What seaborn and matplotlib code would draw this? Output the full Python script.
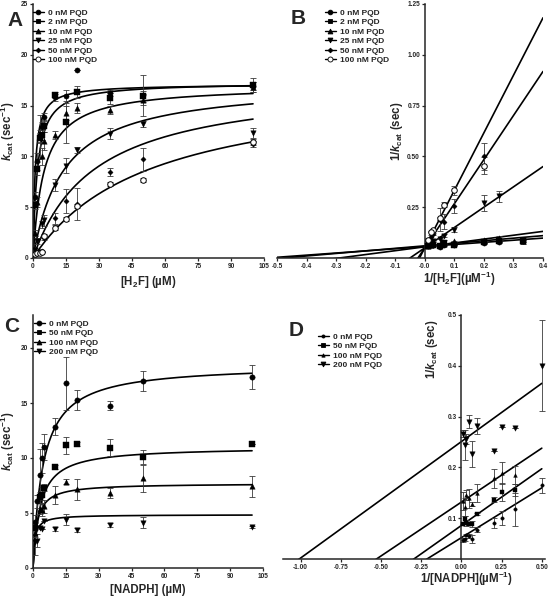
import numpy as np
import matplotlib
matplotlib.use('Agg')
import matplotlib.pyplot as plt
import seaborn as sns
from matplotlib.lines import Line2D
from matplotlib.ticker import FormatStrFormatter

# ---------------- data: panels A / B ([H2F] varied) ----------------
h2f_conc = [1, 2, 3, 4, 5, 10, 15, 20, 35, 50, 100]
h2f_labels = ['0 nM PQD', '2 nM PQD', '10 nM PQD', '25 nM PQD', '50 nM PQD', '100 nM PQD']

kcat_h2f_0 = [6.0, 9.5, 11.9, 12.9, 13.9, 15.8, 15.9, 18.5, 16.2, 16.0, 16.9]
kcat_h2f_2 = [5.2, 8.8, 11.8, 12.1, 13.0, 16.0, 13.4, 16.3, 15.7, 15.9, 17.0]
kcat_h2f_10 = [2.5, 5.5, 12.0, 10.0, 11.5, 12.1, 14.3, 14.8, 14.6, 15.6, 16.8]
kcat_h2f_25 = [0.8, 1.7, 0.6, 3.3, 3.7, 7.2, 9.1, 10.6, 12.25, 13.2, 12.3]
kcat_h2f_50 = [0.4, 0.6, 0.6, 0.65, 2.0, 3.9, 5.6, 5.3, 8.5, 9.7, 11.2]
kcat_h2f_100 = [0.4, 0.5, 0.5, 0.6, 2.2, 3.0, 3.8, 5.1, 7.3, 7.7, 11.4]

err_h2f_0 = [0.5, 0.8, 2.2, 0.5, 0.4, 0.3, 0.6, 0.0, 0.3, 2.0, 0.4]
err_h2f_2 = [0.4, 0.6, 0.5, 0.5, 0.6, 0.3, 2.1, 0.6, 0.5, 0.5, 0.7]
err_h2f_10 = [0.3, 0.5, 0.6, 0.8, 0.9, 0.4, 0.7, 0.5, 0.4, 0.5, 0.5]
err_h2f_25 = [0.2, 0.3, 0.02, 0.3, 0.55, 0.6, 0.7, 0.3, 0.5, 0.3, 0.5]
err_h2f_50 = [0.1, 0.1, 0.02, 0.02, 0.26, 0.55, 1.2, 1.6, 0.4, 1.1, 0.3]
err_h2f_100 = [0.1, 0.1, 0.02, 0.02, 0.2, 0.2, 0.2, 0.2, 0.2, 0.2, 0.3]

# Michaelis-Menten fit parameters (panel A curves)
vmax_h2f = [17.1, 17.3, 17.0, 17.3, 17.5, 17.5]
km_h2f = [1.0, 2.0, 5.0, 14.0, 28.0, 53.0]

# double reciprocal fit lines (panel B)
slope_h2f = [0.105, 0.125, 0.19, 1.0, 2.17, 2.83]
icpt_h2f = [0.056, 0.06, 0.055, 0.05, 0.05, 0.05]

# ---------------- data: panels C / D ([NADPH] varied) ----------------
nadph_conc = [1, 2, 3, 4, 5, 10, 15, 20, 35, 50, 100]
nadph_labels = ['0 nM PQD', '50 nM PQD', '100 nM PQD', '200 nM PQD']

kcat_nadph_0 = [4.2, 6.05, 8.5, 10.0, 11.0, 12.85, 16.8, 15.3, 14.75, 17.0, 17.4]
kcat_nadph_50 = [3.6, np.nan, 6.45, 6.6, 7.3, 9.2, 11.15, 11.25, 10.95, 10.1, 11.25]
kcat_nadph_100 = [3.2, np.nan, 5.4, 5.3, 5.6, 6.65, 7.85, 7.15, 6.85, 8.15, 7.45]
kcat_nadph_200 = [2.4, 2.5, 3.6, 3.57, 4.3, 3.55, 4.4, 3.45, 3.9, 4.1, 3.75]

err_nadph_0 = [0.6, 0.55, 2.3, 1.4, 1.2, 0.75, 2.4, 0.9, 0.4, 0.9, 1.1]
err_nadph_50 = [0.5, 0.0, 0.5, 0.8, 0.3, 0.2, 0.75, 0.2, 0.75, 0.6, 0.0]
err_nadph_100 = [0.4, 0.0, 0.5, 0.6, 0.6, 0.8, 0.25, 0.95, 0.45, 1.2, 0.95]
err_nadph_200 = [1.2, 0.56, 0.0, 0.0, 0.0, 0.2, 0.5, 0.15, 0.15, 0.5, 0.1]

vmax_nadph = [18.5, 11.0, 7.7, 4.85]
km_nadph = [4.5, 3.2, 1.7, 0.8]

slope_nadph = [0.196, 0.223, 0.212, 0.229]
icpt_nadph = [0.062, 0.086, 0.132, 0.251]

# ---------------- style ----------------
sns.set_style('ticks')
plt.rcParams['font.family'] = ['Liberation Sans', 'DejaVu Sans']
plt.rcParams['font.weight'] = 'bold'
plt.rcParams['axes.labelweight'] = 'bold'
plt.rcParams['mathtext.fontset'] = 'custom'
plt.rcParams['mathtext.rm'] = 'Liberation Sans:bold'
plt.rcParams['mathtext.bf'] = 'Liberation Sans:bold'
plt.rcParams['mathtext.it'] = 'Liberation Sans:bold:italic'
plt.rcParams['mathtext.default'] = 'bf'

TICK_FS = 4.7
LABEL_FS = 8.3
LEG_FS = 6.0

fig = plt.figure(figsize=(5.58, 6.0), dpi=100)


def px_axes(left, top, right, bottom):
    W, H = 558.0, 600.0
    return fig.add_axes([left / W, 1 - bottom / H, (right - left) / W, (bottom - top) / H])


axA = px_axes(33, 4, 264, 258)
axB = px_axes(277, 4, 543, 258)
axC = px_axes(33, 315, 263, 568)
axD = px_axes(283, 315, 545, 559)

markers6 = ['o', 's', '^', 'v', 'D', 'o']
sizes6 = [14, 13, 15, 15, 7, 16]
open6 = [False, False, False, False, False, True]
markers4 = ['o', 's', '^', 'v']


def style_axis(ax):
    for side in ['top', 'right']:
        ax.spines[side].set_visible(False)
    for side in ['left', 'bottom']:
        ax.spines[side].set_linewidth(1.1)
    ax.tick_params(direction='out', length=2.5, width=0.9, labelsize=TICK_FS, pad=1)


def draw_points(ax, x, y, e, marker, size, hollow):
    x = np.asarray(x, float)
    y = np.asarray(y, float)
    ax.errorbar(x, y, yerr=e, fmt='none', ecolor='#3a3a3a', elinewidth=0.6,
                capsize=2.2, capthick=0.6, zorder=2)
    sns.scatterplot(x=x, y=y, marker=marker, s=size, ax=ax, zorder=3,
                    color='white' if hollow else 'black', edgecolor='black',
                    linewidth=0.7 if hollow else 0.3, legend=False)


h2f_kcat = [kcat_h2f_0, kcat_h2f_2, kcat_h2f_10, kcat_h2f_25, kcat_h2f_50, kcat_h2f_100]
h2f_err = [err_h2f_0, err_h2f_2, err_h2f_10, err_h2f_25, err_h2f_50, err_h2f_100]
nadph_kcat = [kcat_nadph_0, kcat_nadph_50, kcat_nadph_100, kcat_nadph_200]
nadph_err = [err_nadph_0, err_nadph_50, err_nadph_100, err_nadph_200]

# ---------------- Panel A ----------------
s_grid = np.linspace(0, 100, 300)
for vm, km in zip(vmax_h2f, km_h2f):
    sns.lineplot(x=s_grid, y=vm * s_grid / (km + s_grid), ax=axA, color='black', lw=1.2, zorder=1)
for i in range(6):
    draw_points(axA, h2f_conc, h2f_kcat[i], h2f_err[i], markers6[i], sizes6[i], open6[i])
axA.set_xlim(0, 105)
axA.set_ylim(0, 25)
axA.set_xticks(range(0, 106, 15))
axA.set_yticks(range(0, 26, 5))
axA.set_xlabel('[H$_2$F] (µM)', fontsize=LABEL_FS, labelpad=3)
axA.set_ylabel(r'$\mathit{k}_{cat}$ (sec$^{-1}$)', fontsize=LABEL_FS, labelpad=3)
style_axis(axA)

# ---------------- Panel B ----------------
r_grid = np.linspace(-0.5, 0.4, 50)
for sl, ic in zip(slope_h2f, icpt_h2f):
    sns.lineplot(x=r_grid, y=sl * r_grid + ic, ax=axB, color='black', lw=1.2, zorder=1)
for i in range(6):
    y = np.asarray(h2f_kcat[i], float)
    e = np.asarray(h2f_err[i], float)
    draw_points(axB, 1 / np.asarray(h2f_conc, float), 1 / y, e / y ** 2,
                markers6[i], sizes6[i], open6[i])
axB.set_xlim(-0.5, 0.4)
axB.set_ylim(0, 1.25)
axB.set_xticks(np.round(np.arange(-0.5, 0.41, 0.1), 1))
axB.set_yticks([0.25, 0.5, 0.75, 1.0, 1.25])
axB.xaxis.set_major_formatter(FormatStrFormatter('%.1f'))
axB.yaxis.set_major_formatter(FormatStrFormatter('%.2f'))
style_axis(axB)
axB.spines['left'].set_position(('data', 0))
axB.set_xlabel('1/[H$_2$F](µM$^{-1}$)', fontsize=LABEL_FS)
axB.xaxis.set_label_coords(0.685, -0.045)
axB.set_ylabel(r'1/$\mathit{k}_{cat}$ (sec)', fontsize=LABEL_FS)
axB.yaxis.set_label_coords(0.48, 0.5)

# ---------------- Panel C ----------------
for vm, km in zip(vmax_nadph, km_nadph):
    sns.lineplot(x=s_grid, y=vm * s_grid / (km + s_grid), ax=axC, color='black', lw=1.2, zorder=1)
for i in range(4):
    draw_points(axC, nadph_conc, nadph_kcat[i], nadph_err[i], markers4[i], 15, False)
axC.set_xlim(0, 105)
axC.set_ylim(0, 23)
axC.set_xticks(range(0, 106, 15))
axC.set_yticks(range(0, 21, 5))
axC.set_xlabel('[NADPH] (µM)', fontsize=LABEL_FS, labelpad=3)
axC.set_ylabel(r'$\mathit{k}_{cat}$ (sec$^{-1}$)', fontsize=LABEL_FS, labelpad=3)
style_axis(axC)

# ---------------- Panel D ----------------
d_grid = np.linspace(-1.11, 0.5, 50)
for sl, ic in zip(slope_nadph, icpt_nadph):
    sns.lineplot(x=d_grid, y=sl * d_grid + ic, ax=axD, color='black', lw=1.2, zorder=1)
d_sizes = [6, 6, 7, 15]
for i in range(4):
    y = np.asarray(nadph_kcat[i], float)
    e = np.asarray(nadph_err[i], float)
    draw_points(axD, 1 / np.asarray(nadph_conc, float), 1 / y, e / y ** 2,
                markers4[i], d_sizes[i], False)
axD.set_xlim(-1.11, 0.52)
axD.set_ylim(0.02, 0.5)
axD.set_xticks([-1.0, -0.75, -0.5, -0.25, 0.0, 0.25, 0.5])
axD.set_yticks([0.1, 0.2, 0.3, 0.4, 0.5])
axD.xaxis.set_major_formatter(FormatStrFormatter('%.2f'))
axD.yaxis.set_major_formatter(FormatStrFormatter('%.1f'))
style_axis(axD)
axD.spines['left'].set_position(('data', 0))
axD.set_xlabel('1/[NADPH](µM$^{-1}$)', fontsize=LABEL_FS)
axD.xaxis.set_label_coords(0.70, -0.045)
axD.set_ylabel(r'1/$\mathit{k}_{cat}$ (sec)', fontsize=LABEL_FS)
axD.yaxis.set_label_coords(0.60, 0.86)


# ---------------- legends ----------------
def make_handles(markers, sizes, hollows):
    hs = []
    for m, s, h in zip(markers, sizes, hollows):
        hs.append(Line2D([0], [0], color='black', lw=1.0, marker=m,
                         markersize=np.sqrt(s) * 0.9,
                         markerfacecolor='white' if h else 'black',
                         markeredgecolor='black', markeredgewidth=0.6))
    return hs


def place_legend(ax, handles, labels, left, top):
    ax.legend(handles, labels, loc='upper left', bbox_to_anchor=(left / 558, 1 - top / 600),
              bbox_transform=fig.transFigure, frameon=False, fontsize=LEG_FS,
              handlelength=1.3, handletextpad=0.5, labelspacing=0.2,
              borderpad=0, borderaxespad=0)


place_legend(axA, make_handles(markers6, sizes6, open6), h2f_labels, 33, 9)
place_legend(axB, make_handles(markers6, sizes6, open6), h2f_labels, 325, 9)
place_legend(axC, make_handles(markers4, [15] * 4, [False] * 4), nadph_labels, 34, 320)
place_legend(axD, make_handles(markers4, d_sizes, [False] * 4), nadph_labels, 318, 333)

# panel letters
for letter, x, y in [('A', 7, 11), ('B', 291, 9), ('C', 4, 317), ('D', 289, 321)]:
    fig.text(x / 558, 1 - y / 600, letter, fontsize=15, fontweight='bold', va='top', ha='left')

fig.savefig('out.png', dpi=100)
